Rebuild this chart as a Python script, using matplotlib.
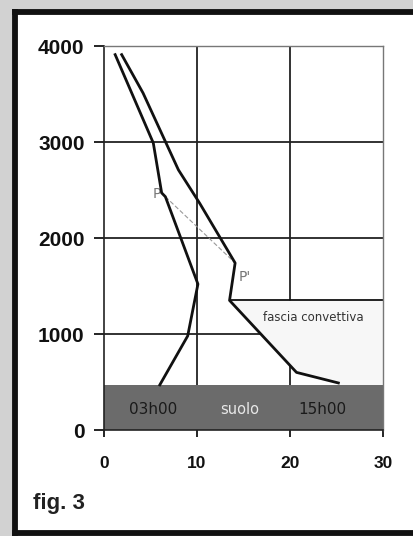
import matplotlib
matplotlib.use("Agg")
import matplotlib.pyplot as plt
from matplotlib.patches import Rectangle, Polygon
from matplotlib.lines import Line2D

# temperature (x) vs altitude (y) profiles
night_t = [6.0, 9.0, 10.1, 6.6, 6.2, 5.3, 1.2]
night_h = [470, 980, 1520, 2430, 2470, 2990, 3910]
day_t = [25.2, 20.7, 13.5, 14.1, 10.3, 8.0, 4.2, 1.9]
day_h = [490, 600, 1350, 1740, 2360, 2710, 3510, 3910]
ground_top = 470
conv_top = 1350
p_point = (6.6, 2430)
p2_point = (14.1, 1740)
xticks = [0, 10, 20, 30]
yticks = [0, 1000, 2000, 3000, 4000]

fig = plt.figure(figsize=(4.13, 5.36), dpi=100)
fig.patch.set_facecolor("#d2d2d2")

# white card with thick border on left, top and bottom
x0, y0, y1 = 14.5 / 413, 3 / 536, 1 - 12 / 536
fig.patches.append(Rectangle((x0, y0), 1 - x0, y1 - y0, transform=fig.transFigure,
                             facecolor="white", edgecolor="none", zorder=-2))
for xs, ys in [([x0, x0], [y0, y1]), ([x0, 1], [y1, y1]), ([x0, 1], [y0, y0])]:
    fig.lines.append(Line2D(xs, ys, transform=fig.transFigure, color="#111111", lw=4.2,
                            zorder=-1))

ax = fig.add_axes([104 / 413, 1 - 430 / 536, 279 / 413, 384 / 536])
ax.set_xlim(0, 30)
ax.set_ylim(0, 4000)
ax.set_facecolor("white")

# grid
for gx in xticks[1:3]:
    ax.axvline(gx, color="#222222", lw=1.3, zorder=1)
for gy in yticks[1:4]:
    ax.axhline(gy, color="#222222", lw=1.3, zorder=1)

# convective band (faint stipple right of day profile)
band = [(day_t[2], conv_top), (30, conv_top), (30, ground_top), (day_t[0], ground_top),
        (day_t[0], day_h[0]), (day_t[1], day_h[1])]
ax.add_patch(Polygon(band, closed=True, facecolor="#f7f7f7", edgecolor="none", zorder=1.5))
ax.plot([day_t[2], 30], [conv_top, conv_top], color="#111111", lw=1.3, zorder=2)
ax.text(22.5, 1170, "fascia convettiva", fontsize=8.5, color="#333333",
        ha="center", va="center", zorder=3)

# ground
ax.add_patch(Rectangle((0, 0), 30, ground_top, facecolor="#6b6b6b", edgecolor="none", zorder=2))
ax.text(5.3, 210, "03h00", fontsize=11, color="#1a1a1a", ha="center", va="center", zorder=3)
ax.text(14.6, 210, "suolo", fontsize=10.5, color="#e8e8e8", ha="center", va="center", zorder=3)
ax.text(23.5, 210, "15h00", fontsize=11, color="#1a1a1a", ha="center", va="center", zorder=3)

# profiles
ax.plot(night_t, night_h, color="#111111", lw=2.0, zorder=4)
ax.plot(day_t, day_h, color="#111111", lw=2.0, zorder=4)

# adiabatic path P -> P'
ax.plot([p_point[0], p2_point[0]], [p_point[1], p2_point[1]], color="#999999",
        lw=0.8, ls=(0, (4, 2)), zorder=3)
ax.text(p_point[0] - 0.5, p_point[1] + 30, "P", fontsize=10, color="#777777",
        ha="right", va="center")
ax.text(p2_point[0] + 0.4, p2_point[1] - 150, "P'", fontsize=10, color="#777777",
        ha="left", va="center")

# axes styling
for side in ["top", "right"]:
    ax.spines[side].set_color("#777777")
    ax.spines[side].set_linewidth(1.0)
for side in ["left", "bottom"]:
    ax.spines[side].set_color("#222222")
    ax.spines[side].set_linewidth(1.2)
ax.set_xticks(xticks)
ax.set_yticks(yticks)
ax.tick_params(axis="y", direction="out", length=7, width=1.2, pad=7, labelsize=15)
ax.tick_params(axis="x", direction="out", length=5, width=1.2, pad=14, labelsize=12.5)
for lab in ax.get_xticklabels() + ax.get_yticklabels():
    lab.set_fontweight("bold")
    lab.set_family("Liberation Sans")
    lab.set_color("#111111")

fig.text(33 / 413, 1 - 504 / 536, "fig. 3", fontsize=16, fontweight="bold",
         family="Liberation Sans", color="#222222", va="center", ha="left")

fig.savefig("out.png", dpi=100)
